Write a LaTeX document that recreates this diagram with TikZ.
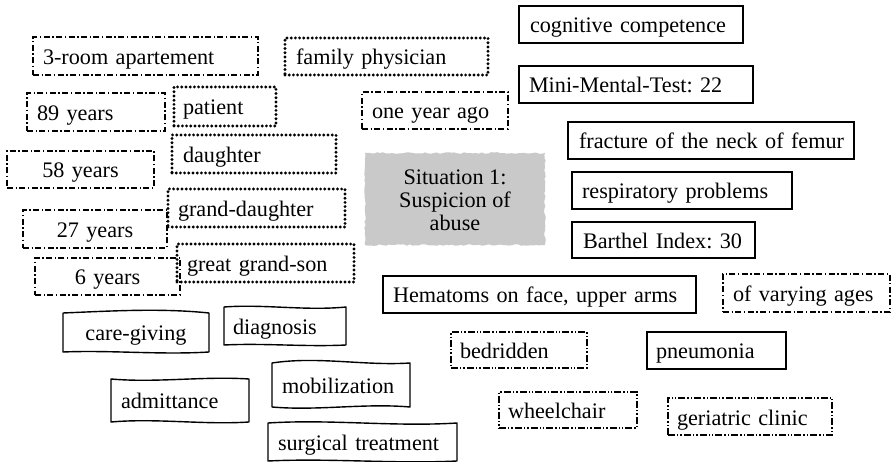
\documentclass[tikz,border=0pt]{standalone}
\usepackage{fontspec}
\setmainfont{Liberation Serif}
\usetikzlibrary{calc,decorations.pathmorphing}
\frenchspacing

% \card[pad]{style}{name}{x1}{y1}{x2}{y2}{text}: a framed one-line label spanning (x1,y1)-(x2,y2)
\newcommand\card[8][10]{%
  \pgfmathsetmacro\cw{#6-#4}%
  \pgfmathsetmacro\ch{#7-#5}%
  \pgfmathsetmacro\tw{\cw-2*#1}%
  \node[#2, anchor=north west, minimum width=\cw pt, minimum height=\ch pt,
        text width=\tw pt] (#3) at (#4,#5) {\mbox{#8}};}

% \wavy{name}{top1}{top2}{bottom1}{bottom2}: hand-drawn outline round a node
\newcommand\wavy[5]{%
  \draw[wline] (#1.north west)
    .. controls ($(#1.north west)!.33!(#1.north east)+(0,#2)$)
            and ($(#1.north west)!.67!(#1.north east)+(0,#3)$) .. (#1.north east)
    -- (#1.south east)
    .. controls ($(#1.south east)!.33!(#1.south west)+(0,#4)$)
            and ($(#1.south east)!.67!(#1.south west)+(0,#5)$) .. (#1.south west)
    -- cycle;}

\begin{document}
\begin{tikzpicture}[x=1pt,y=-1pt,
  every node/.style={font=\fontsize{22.2}{23}\selectfont, inner sep=0pt, outer sep=0pt},
  card/.style={rectangle, align=left, text height=17pt, text depth=0pt},
  plainbox/.style={card, draw, line width=1.6pt},
  dotbox/.style={card, draw, line width=3.2pt, line cap=round, dash pattern=on 0pt off 4.2pt},
  dashdot/.style={card, draw, line width=1.3pt, dash pattern=on 6pt off 2.5pt on 1.4pt off 2.5pt},
  dashdotdot/.style={card, draw, line width=1.3pt, dash pattern=on 7pt off 2pt on 1.4pt off 2pt on 1.4pt off 2pt},
  centred/.style={align=center},
  paper/.style={card},
  wline/.style={line width=1.4pt, line join=round},
  rough/.style={fill=black!21, decorate, decoration={random steps, segment length=3pt, amplitude=0.8pt}},
]
\useasboundingbox (0,0) rectangle (892,462);

% people and their ages
\card{dashdot}{apt}{33}{37}{258}{75}{3-room apartement}
\card[11]{dotbox}{phys}{285}{38}{488}{75}{family physician}
\card{dashdot}{age89}{27}{93}{165}{131}{89 years}
\card[9]{dotbox}{pat}{174}{87}{276}{126}{patient}
\card{dashdot,centred}{age58}{7}{151}{154}{188}{58 years}
\card[11]{dotbox}{dau}{172}{135}{336}{173}{daughter}
\card{dotbox}{gdau}{168}{189}{345}{227}{grand-daughter}
\card{dashdot,centred}{age27}{23}{210}{167}{248}{27 years}
\card{dotbox}{ggson}{177}{244}{354}{282}{great grand-son}
\card{dashdot,centred}{age6}{35}{258}{180}{295}{6 years}
\card{dashdot}{ago}{362}{92}{508}{129}{one year ago}

% findings
\card[11]{plainbox}{cog}{519}{6}{743}{43}{cognitive competence}
\card{plainbox}{mmt}{519}{66}{753}{103}{Mini-Mental-Test: 22}
\card[11]{plainbox}{frac}{568}{122}{854}{159}{fracture of the neck of femur}
\card{plainbox}{resp}{572}{172}{792}{209}{respiratory problems}
\card[11]{plainbox}{bart}{572}{222}{755}{258}{Barthel Index: 30}
\card{plainbox}{hema}{383}{276}{696}{313}{Hematoms on face, upper arms}
\card{dashdot}{vary}{723}{274}{890}{312}{of varying ages}
\card[9]{dashdotdot}{bed}{451}{332}{587}{368}{bedridden}
\card[9]{plainbox}{pneu}{647}{332}{786}{369}{pneumonia}
\card[9]{dashdotdot}{wheel}{499}{392}{637}{428}{wheelchair}
\card[9]{dashdotdot}{geri}{668}{398}{832}{435}{geriatric clinic}

% central case card
\coordinate (sitnw) at (365,153);
\coordinate (sitse) at (545,245);
\fill[rough] (sitnw) rectangle (sitse);
\node[align=center] (sit) at ($(sitnw)!.5!(sitse)+(0,1)$) {Situation 1:\\Suspicion of\\abuse};

% care steps on hand-drawn cards
\card[20]{paper,centred}{care}{63}{313}{209}{352}{care-giving}
\wavy{care}{-2}{-5}{3}{-2}
\card[9]{paper}{diag}{224}{307}{346}{345}{diagnosis}
\wavy{diag}{-3}{4}{2}{-2}
\card{paper}{adm}{111}{379}{249}{422}{admittance}
\wavy{adm}{4}{-3}{3}{-4}
\card{paper}{mob}{272}{363}{410}{407}{mobilization}
\wavy{mob}{-7}{3}{-4}{4}
\card{paper}{surg}{268}{423}{457}{461}{surgical treatment}
\wavy{surg}{-4}{4}{3}{-3}

\end{tikzpicture}
\end{document}
